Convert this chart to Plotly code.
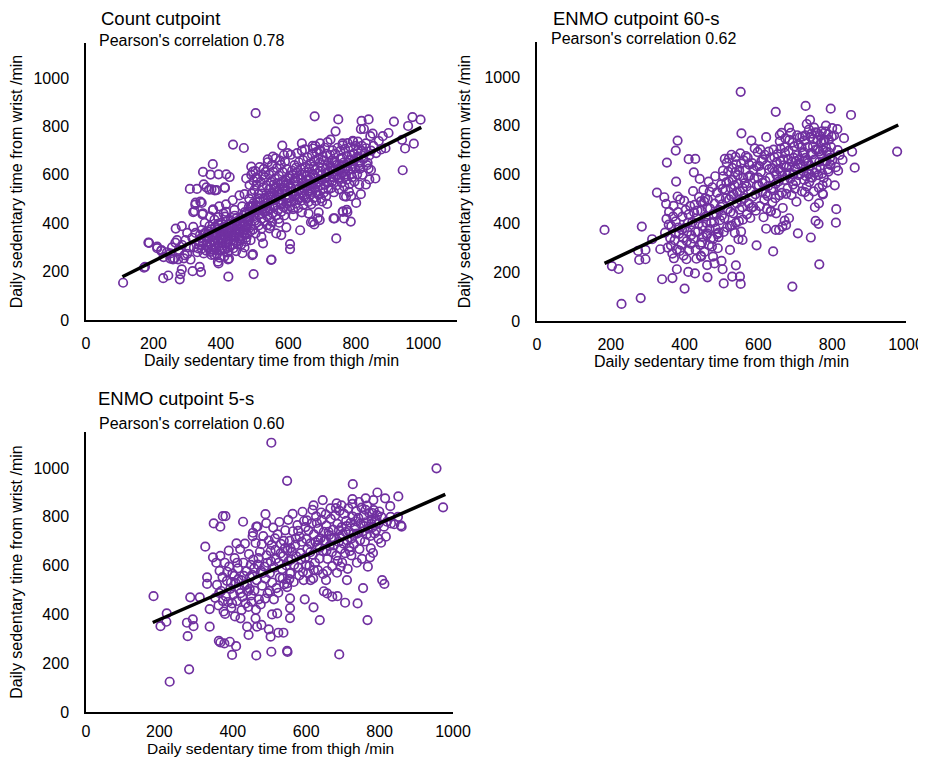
import plotly.graph_objects as go

# ---------------- data ----------------
panel_titles = ["Count cutpoint", "ENMO cutpoint 60-s", "ENMO cutpoint 5-s"]
correlations = ["0.78", "0.62", "0.60"]
x_label = "Daily sedentary time from thigh /min"
y_label = "Daily sedentary time from wrist /min"
tick_values = [0, 200, 400, 600, 800, 1000]

# Panel 1: Count cutpoint (thigh, wrist)
count_points = [
    (503,855),(678,842),(748,829),(817,823),(838,829),(913,820),(968,839),(992,828),(955,802),(897,773),
    (850,770),(824,790),(740,780),(937,745),(972,729),(888,710),(939,619),(858,585),(838,626),(801,484),
    (785,407),(742,337),(436,725),(468,711),(582,721),(376,644),(347,612),(369,601),(393,602),(416,602),
    (426,591),(308,542),(329,542),(349,561),(365,539),(382,536),(412,546),(343,484),(324,477),(318,446),
    (345,437),(376,454),(408,440),(266,378),(284,388),(318,385),(185,320),(211,297),(223,286),(172,216),
    (110,154),(229,173),(244,184),(278,168),(280,190),(284,209),(316,202),(337,220),(341,198),(250,254),
    (262,254),(292,268),(422,179),(497,190),(424,254),(393,234),(550,250),(493,268),(605,293),(605,314),
    (635,371),(667,404),(677,395),(693,413),(734,420),(762,448),(775,446),(765,420),(843,760),(815,789),
    (946,709),(833,640),(640,730),(673,709),(692,702),(725,746),(761,730),(791,741),(806,737),(830,730),
    (811,640),(840,581),(786,512),(771,510),(761,448),(773,455),(737,420),(673,406),(687,420),(564,358),
    (579,351),(544,379),(594,383),(357,548),(372,540),(387,537),(411,548),(325,485),(339,489),(322,450),
    (347,441),(377,457),(187,319),(211,303),(224,289),(175,220),(258,251),(273,251),(300,273),(421,251),
    (464,276),(391,241),(372,269),(549,248),(495,272),(525,317),(520,344),(539,664),(554,675),(490,634),
    (495,613),(475,585),(505,590),(525,599),
    (812,650),(808,675),(815,700),(818,720),(822,665),(826,690),(830,710),(835,650),(840,680),(845,700),
    (852,720),(860,690),(868,740),(875,705),(880,760),(820,600),(830,560),(845,620),(810,560),(815,520),
    (230,260),(240,280),(255,300),(265,320),(275,290),(285,310),(295,330),(305,300),(315,340),(325,360),
    (300,360),(290,255),(320,300),(330,280),(310,250),(250,275),(270,330),
    (333,296),(347,318),(356,287),(362,341),(338,352),(371,309),(377,362),(385,296),(392,327),(398,351),
    (403,289),(409,373),(414,318),(421,345),(426,301),(433,388),(438,327),(444,362),(451,311),(457,398),
    (462,346),(468,372),(474,325),(479,407),(344,372),(352,401),(366,388),(374,331),(381,415),(387,358),
    (395,378),(401,402),(406,333),(413,427),(418,381),(424,364),(429,412),(436,349),(441,431),(447,394),
    (453,338),(459,421),(465,401),(471,446),(477,383),(336,321),(349,275),(358,309),(364,365),(369,282),
    (376,347),(383,385),(388,272),(394,303),(399,331),(405,366),(411,292),(416,407),(422,322),(427,379),
    (432,343),(437,297),(443,405),(448,376),(455,356),(460,312),(466,431),(472,392),(478,355),(341,338),
    (354,361),(361,301),(373,292),(379,326),(386,339),(391,397),(397,287),(402,317),(408,356),(412,341),
    (419,297),(425,396),(431,361),(439,384),(446,322),(452,412),(458,373),(464,361),(470,408),(476,341),
    (481,424),(368,427),(392,425),(415,447),(440,455),(463,470),(357,342),(382,352),(404,381),(428,366),
    (450,390),(474,420),(420,279),(435,312),(456,330),(445,285),(410,262),(380,270),(396,258),(470,300),
    (488,330),(415,478),(435,495),(455,515),(395,470),(470,520),
    (482,412),(486,448),(489,392),(493,471),(497,428),(502,455),(506,402),(509,489),(513,436),(517,468),
    (521,419),(526,502),(529,447),(533,481),(538,428),(541,515),(545,462),(549,497),(553,441),(558,528),
    (561,475),(565,509),(569,454),(574,541),(577,488),(581,523),(586,466),(589,556),(593,501),(597,535),
    (484,501),(491,522),(499,537),(505,559),(511,520),(518,571),(524,548),(531,589),(536,556),(543,601),
    (548,572),(555,613),(560,585),(566,628),(572,597),(578,641),(583,612),(590,655),(595,624),(599,588),
    (487,366),(495,374),(503,358),(512,391),(520,377),(528,409),(537,392),(544,421),(552,405),(563,431),
    (571,418),(579,447),(588,432),(596,458),(483,468),(496,482),(507,471),(515,503),(523,457),(534,462),
    (540,486),(551,523),(557,494),(564,548),(570,530),(576,564),(584,546),(592,578),(600,562),(490,600),
    (502,615),(515,632),(527,625),(539,652),(551,641),(562,668),(575,659),(587,682),(598,690),(485,558),
    (508,584),(532,612),(556,560),(580,495),(594,483),(547,389),(573,402),(521,522),(497,575),
    (602,507),(606,552),(609,489),(613,531),(617,574),(621,512),(625,558),(628,497),(632,541),(636,586),
    (640,523),(643,567),(647,509),(651,552),(655,596),(658,533),(662,579),(666,518),(669,561),(673,604),
    (677,545),(681,590),(684,528),(688,571),(692,615),(696,556),(699,601),(703,541),(707,584),(711,627),
    (715,567),(718,612),(604,596),(611,617),(618,640),(624,609),(631,652),(637,624),(644,661),(650,633),
    (657,672),(664,645),(670,684),(676,657),(683,694),(689,666),(695,703),(702,676),(708,712),(714,687),
    (720,652),(605,470),(614,458),(622,481),(629,463),(638,493),(645,476),(653,502),(660,488),(668,478),
    (675,505),(682,492),(690,517),(697,503),(705,526),(712,512),(719,540),(608,530),(620,585),(633,506),
    (641,548),(654,577),(667,543),(679,620),(686,548),(701,630),(713,589),(626,690),(649,705),(672,720),
    (694,730),(716,735),(607,683),(640,700),(680,720),(700,490),(715,480),(660,440),(690,445),(640,445),
    (615,430),
    (722,588),(726,632),(729,570),(733,615),(737,657),(741,598),(744,641),(748,583),(752,625),(755,668),
    (759,607),(763,650),(767,592),(770,635),(774,678),(778,618),(782,661),(786,602),(790,645),(794,688),
    (798,628),(802,672),(724,682),(731,701),(739,688),(746,712),(754,699),(761,722),(768,707),(776,731),
    (784,714),(792,737),(800,720),(806,700),(727,545),(735,528),(743,556),(751,540),(758,568),(766,551),
    (773,580),(781,562),(789,590),(796,572),(804,602),(730,660),(757,640),(771,602),(788,680),(746,600),
    (808,650),(812,625),(765,512),(780,530),
    (335,310),(343,295),(350,355),(359,325),(366,318),(372,375),(378,290),(384,320),(390,355),(395,395),
    (400,340),(406,298),(411,385),(417,360),(423,335),(428,395),(434,370),(440,345),(446,420),(452,360),
    (458,335),(463,390),(469,355),(475,440),(480,395),(485,425),(490,470),(494,445),(500,410),(504,475),
    (510,455),(516,490),(522,440),(527,470),(532,505),(538,450),(543,540),(547,508),(554,470),(559,545),
    (563,500),(568,565),(573,520),(578,478),(585,575),(590,535),(596,505),(603,585),(608,545),(612,600),
    (618,515),(623,630),(628,585),(635,505),(639,600),(646,545),(650,610),(656,555),(661,625),(666,590),
    (671,530),(676,635),(682,560),(687,605),(693,650),(698,580),(704,660),(709,560),(716,640),(721,610),
    (728,630),(734,590),(740,650),(747,620),(753,590),(760,670),(768,620),(776,650),(785,625),(795,660),
]

# Panel 2: ENMO cutpoint 60-s
enmo60_points = [
    (552,939),(647,857),(728,881),(796,870),(851,844),(554,769),(814,786),(783,800),(683,792),(740,824),
    (731,807),(621,753),(658,762),(581,739),(832,749),(854,694),(976,694),(861,628),(816,616),(807,556),
    (810,403),(811,458),(765,232),(692,141),(742,342),(707,359),(381,739),(376,698),(352,649),(325,526),
    (345,507),(377,571),(411,663),(429,664),(425,609),(183,373),(284,387),(312,335),(334,294),(203,225),
    (221,213),(229,70),(281,94),(277,250),(294,253),(274,287),(294,291),(339,171),(367,176),(379,212),
    (400,133),(410,201),(428,195),(462,179),(506,154),(529,182),(552,152),(550,182),(539,228),(595,310),
    (640,285),(461,229),(445,264),(477,264),(481,236),(500,246),(503,212),(523,291),(461,359),(492,362),
    (546,335),(557,332),(553,366),(621,378),(647,373),(656,373),(648,441),(633,448),(665,387),(675,393),
    (683,421),(671,411),(755,410),(763,398),(764,482),(753,466),(736,510),(775,519),(724,578),(774,557),
    (347,362),(351,418),(354,301),(358,447),(361,339),(364,389),(367,276),(370,472),(373,331),(376,408),
    (379,293),(382,446),(385,357),(388,498),(391,312),(394,428),(397,268),(400,381),(403,455),(406,327),
    (409,402),(412,289),(415,471),(418,352),(350,480),(357,395),(363,310),(369,428),(375,359),(381,510),
    (387,287),(393,375),(399,492),(405,253),(411,437),(417,316),(371,257),(396,340),(408,366),(383,383),
    (421,405),(424,338),(427,476),(430,291),(433,421),(436,366),(439,508),(442,312),(445,451),(448,389),
    (451,537),(454,283),(457,428),(460,352),(463,497),(466,311),(469,460),(472,402),(475,548),(478,337),
    (481,481),(484,379),(487,526),(490,298),(493,455),(496,413),(499,560),(423,532),(429,365),(435,452),
    (441,582),(447,321),(453,489),(459,402),(465,571),(471,338),(477,438),(483,593),(489,356),(495,501),
    (426,445),(438,398),(450,345),(462,462),(474,305),(486,437),(498,468),(432,255),(444,268),(456,503),
    (468,530),(480,405),(492,344),(444,490),(468,377),
    (502,478),(505,593),(508,421),(511,537),(514,648),(517,458),(520,571),(523,389),(526,512),(529,627),
    (532,441),(535,556),(538,672),(541,482),(544,598),(547,409),(550,531),(553,645),(556,466),(559,587),
    (503,541),(509,664),(515,383),(521,498),(527,681),(533,519),(539,402),(545,563),(551,687),(557,545),
    (506,365),(512,503),(518,612),(524,447),(530,578),(536,361),(542,529),(548,618),(554,491),(560,658),
    (501,432),(513,568),(525,545),(537,609),(549,456),(504,616),(528,392),(540,642),(558,415),(520,665),
    (562,503),(565,618),(568,551),(571,669),(574,482),(577,596),(580,533),(583,647),(586,468),(589,583),
    (592,519),(595,634),(598,692),(601,556),(604,471),(607,611),(610,528),(613,662),(616,497),(619,574),
    (622,639),(625,512),(628,694),(631,587),(634,451),(637,626),(640,543),(643,671),(646,503),(649,598),
    (563,565),(569,437),(575,641),(581,463),(587,621),(593,452),(599,587),(605,703),(611,566),(617,681),
    (623,459),(629,622),(635,541),(641,702),(647,562),(566,676),(578,422),(590,707),(602,635),(614,425),
    (626,552),(638,486),(650,651),(572,590),(584,508),(596,556),(608,655),(620,522),(632,668),(644,612),
    (652,684),(655,572),(658,736),(661,613),(664,525),(667,662),(670,578),(673,748),(676,631),(679,543),
    (682,697),(685,606),(688,771),(691,652),(694,559),(697,715),(700,627),(703,489),(706,679),(709,598),
    (712,752),(715,641),(718,531),(654,622),(660,706),(666,463),(672,689),(678,597),(684,742),(690,516),
    (696,668),(702,572),(708,725),(714,603),(720,688),(657,515),(663,771),(669,638),(675,521),(681,662),
    (687,583),(693,731),(699,542),(705,761),(711,662),(717,712),(659,655),(671,712),(683,632),(695,601),
    (707,642),(719,755),(665,595),(701,655),
    (722,612),(725,739),(728,668),(731,551),(734,712),(737,784),(740,636),(743,688),(746,587),(749,745),
    (752,661),(755,773),(758,622),(761,702),(764,545),(767,758),(770,681),(773,604),(776,737),(779,655),
    (782,776),(785,693),(788,621),(791,742),(794,668),(797,712),(723,692),(729,593),(735,648),(741,754),
    (747,683),(753,607),(759,771),(765,652),(771,732),(777,586),(783,711),(789,765),(795,641),(726,528),
    (738,569),(750,531),(762,598),(774,522),(786,567),(732,655),(744,768),(756,702),(768,625),(780,742),
    (792,690),(724,654),(748,715),(772,777),(736,602),(760,742),(784,655),(727,761),(751,792),(775,700),
    (799,755),(742,588),(766,695),(790,612),
    (800,790),(805,760),(815,700),(820,680),(828,660),(800,660),(795,640),(810,630),
]

# Panel 3: ENMO cutpoint 5-s
enmo5_points = [
    (505,1104),(548,948),(955,999),(973,839),(727,934),(794,900),(815,876),(851,884),(829,844),(645,869),
    (620,847),(683,855),(726,873),(762,876),(783,869),(858,765),(831,773),(817,719),(804,694),(776,671),
    (774,634),(807,541),(813,525),(755,508),(740,445),(767,377),(690,236),(637,377),(620,429),(596,462),
    (556,466),(556,426),(556,385),(548,251),(549,246),(505,247),(464,232),(398,234),(409,270),(392,288),
    (366,285),(281,175),(228,124),(184,475),(203,352),(219,370),(220,404),(284,470),(310,470),(275,366),
    (291,380),(293,352),(277,311),(337,350),(337,422),(325,678),(346,634),(348,773),(366,760),(373,803),
    (380,803),(428,780),(464,760),(489,811),(454,721),(410,691),(421,384),(439,350),(443,316),(462,384),
    (466,350),(478,357),(498,339),(503,309),(524,325),(538,325),(507,400),(521,404),(330,552),(330,525),
    (362,292),(377,281),(648,495),(657,486),(671,473),(685,475),(706,448),(654,541),(711,541),(694,596),
    (621,582),(612,541),(548,527),(556,568),
    (352,468),(357,521),(361,437),(364,579),(368,496),(372,553),(375,412),(378,612),(381,474),(384,538),
    (387,451),(390,596),(393,505),(396,427),(399,567),(402,482),(405,631),(408,528),(411,455),(414,589),
    (417,503),(420,668),(423,541),(426,472),(429,612),(432,518),(435,445),(438,577),(441,496),(444,647),
    (447,553),(450,478),(355,612),(366,640),(379,402),(389,662),(398,445),(406,392),(415,545),(424,418),
    (433,690),(442,431),(449,603),(363,488),(373,455),(385,575),(395,531),(404,558),(412,612),(421,487),
    (430,558),(439,523),(446,505),
    (453,562),(456,625),(459,498),(462,693),(465,541),(468,604),(471,462),(474,657),(477,579),(480,518),
    (483,721),(486,596),(489,547),(492,642),(495,487),(498,703),(501,569),(504,618),(507,531),(510,756),
    (513,592),(516,665),(519,508),(522,728),(525,612),(528,551),(531,689),(534,586),(537,638),(540,523),
    (543,745),(546,601),(549,662),(455,735),(467,760),(479,688),(491,774),(503,660),(515,712),(527,779),
    (539,702),(451,452),(463,420),(476,441),(488,465),(500,497),(512,462),(524,489),(536,548),(548,512),
    (458,589),(470,631),(482,570),(494,612),(506,685),(518,628),(530,650),(542,672),
    (552,619),(555,702),(558,571),(561,658),(564,741),(567,603),(570,685),(573,638),(576,766),(579,592),
    (582,719),(585,651),(588,698),(591,574),(594,783),(597,632),(600,709),(603,668),(606,745),(609,599),
    (612,691),(615,773),(618,645),(621,728),(624,612),(627,802),(630,684),(633,751),(636,629),(639,712),
    (642,788),(645,661),(648,739),(551,788),(563,812),(578,743),(590,821),(602,786),(617,829),(629,775),
    (641,818),(554,545),(566,533),(581,560),(593,541),(605,568),(619,548),(632,582),(646,566),(560,626),
    (572,712),(586,625),(598,758),(611,655),(625,697),(637,674),(649,702),(557,672),(599,602),(633,705),
    (652,702),(655,764),(658,628),(661,739),(664,681),(667,792),(670,655),(673,748),(676,712),(679,806),
    (682,641),(685,771),(688,697),(691,825),(694,668),(697,758),(700,729),(703,812),(706,651),(709,784),
    (712,703),(715,835),(718,676),(653,810),(666,835),(681,836),(696,847),(710,762),(657,578),(671,598),
    (684,571),(698,612),(713,587),(662,725),(675,683),(689,745),(702,690),(716,742),(668,712),(692,718),
    (707,738),(655,660),(686,620),(719,660),
    (721,776),(724,712),(727,801),(730,688),(733,757),(736,823),(739,731),(742,796),(745,668),(748,772),
    (751,838),(754,741),(757,805),(760,699),(763,778),(766,846),(769,752),(772,815),(775,722),(778,790),
    (781,758),(784,828),(787,784),(790,745),(793,807),(796,771),(799,822),(723,642),(738,612),(752,628),
    (768,596),(782,652),(797,710),(726,853),(744,861),(762,829),(780,816),(729,730),(747,705),(765,728),
    (786,732),(735,782),(758,762),(777,771),(792,786),
    (805,800),(812,760),(820,780),(830,800),(840,770),(850,800),(860,760),
]

# Fitted regression lines (end points)
count_fit_x, count_fit_y = [108, 994], [179, 796]
enmo60_fit_x, enmo60_fit_y = [183, 979], [236, 803]
enmo5_fit_x, enmo5_fit_y = [182, 979], [367, 892]

count_x = [p[0] for p in count_points]
count_y = [p[1] for p in count_points]
enmo60_x = [p[0] for p in enmo60_points]
enmo60_y = [p[1] for p in enmo60_points]
enmo5_x = [p[0] for p in enmo5_points]
enmo5_y = [p[1] for p in enmo5_points]

# ---------------- figure ----------------
W, H = 926, 757
OFF = 8  # the page body adds an 8 px margin at top-left
PURPLE = "#7030A0"
FONT = "Liberation Sans, Arial, sans-serif"

fig = go.Figure()

panels = [
    (count_x, count_y, count_fit_x, count_fit_y, "x", "y"),
    (enmo60_x, enmo60_y, enmo60_fit_x, enmo60_fit_y, "x2", "y2"),
    (enmo5_x, enmo5_y, enmo5_fit_x, enmo5_fit_y, "x3", "y3"),
]
for px_, py_, fx, fy, xa, ya in panels:
    fig.add_trace(go.Scatter(
        x=px_, y=py_, mode="markers", xaxis=xa, yaxis=ya, showlegend=False,
        marker=dict(symbol="circle-open", size=8.5, color=PURPLE, line=dict(width=1.7, color=PURPLE)),
    ))
    fig.add_trace(go.Scatter(
        x=fx, y=fy, mode="lines", xaxis=xa, yaxis=ya, showlegend=False,
        line=dict(color="black", width=3.5),
    ))

def px2x(p):
    return (p - OFF) / W

def px2y(p):
    return 1 - (p - OFF) / H

def xaxis(dom, rng, title_text, label_standoff):
    return dict(domain=dom, range=rng, showgrid=False, zeroline=False, showline=True,
                linecolor="black", linewidth=1.5, ticks="", tickvals=tick_values, automargin=False,
                tickfont=dict(size=16, color="black", family=FONT), ticklabelstandoff=label_standoff,
                title=dict(text=title_text, font=dict(size=16, color="black", family=FONT), standoff=4))

def yaxis(dom, rng, anchor):
    return dict(domain=dom, range=rng, showgrid=False, zeroline=False, showline=True,
                linecolor="black", linewidth=1.5, ticks="", tickvals=tick_values, anchor=anchor,
                automargin=False,
                tickfont=dict(size=16, color="black", family=FONT), ticklabelstandoff=12,
                title=dict(text=y_label, font=dict(size=16, color="black", family=FONT), standoff=10))

x1 = xaxis([px2x(86), px2x(457)], [0, 1100], x_label, 8); x1["anchor"] = "y"
y1 = yaxis([px2y(320), px2y(43)], [0, 1145], "x")
x2 = xaxis([px2x(537), px2x(906)], [0, 1000], x_label, 8); x2["anchor"] = "y2"
y2 = yaxis([px2y(321), px2y(42)], [0, 1143], "x2")
x3 = xaxis([px2x(86), px2x(453)], [0, 1000], "", 4); x3["anchor"] = "y3"
y3 = yaxis([px2y(712), px2y(432)], [0, 1148], "x3")

annotations = []
title_pos = [(99, 18, 97, 41), (551, 18, 549, 39), (96, 398, 97, 423)]
for (tx, ty, cx, cy), t, r in zip(title_pos, panel_titles, correlations):
    annotations.append(dict(text=t, x=px2x(tx), y=px2y(ty), xref="paper", yref="paper",
                            xanchor="left", yanchor="middle", showarrow=False,
                            font=dict(size=18.5, color="black", family=FONT)))
    annotations.append(dict(text="Pearson's correlation " + r, x=px2x(cx), y=px2y(cy),
                            xref="paper", yref="paper", xanchor="left", yanchor="middle",
                            showarrow=False, font=dict(size=16, color="black", family=FONT)))

# x-axis title of the bottom panel, sitting close to the page edge as in the reference
annotations.append(dict(text=x_label, x=px2x(270), y=px2y(748), xref="paper", yref="paper",
                        xanchor="center", yanchor="middle", showarrow=False, borderpad=0,
                        font=dict(size=15.5, color="black", family=FONT)))

fig.update_layout(
    width=W, height=H, margin=dict(l=0, r=0, t=0, b=0),
    paper_bgcolor="white", plot_bgcolor="white",
    font=dict(family=FONT, color="black"),
    xaxis=x1, yaxis=y1, xaxis2=x2, yaxis2=y2, xaxis3=x3, yaxis3=y3,
    annotations=annotations,
)

fig.write_html("out.html")
